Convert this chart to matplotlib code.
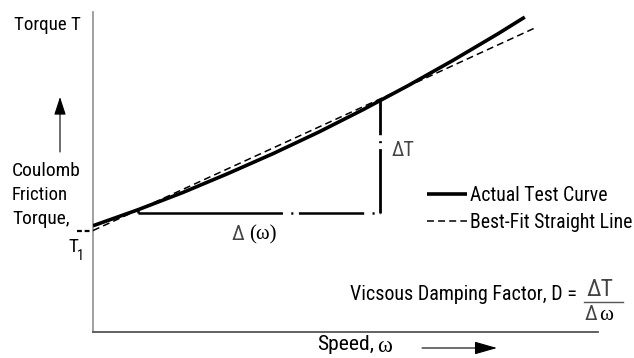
import matplotlib
matplotlib.use("Agg")
import matplotlib.pyplot as plt
from matplotlib.lines import Line2D
from matplotlib.patches import FancyArrowPatch
from matplotlib import font_manager

plt.rcParams['lines.scale_dashes'] = False

# Pick the narrowest sans face available
_fonts = font_manager.fontManager.ttflist
_names = {f.name for f in _fonts}
SANS, STRETCH = 'Liberation Sans', 'normal'
for cand in ('Liberation Sans Narrow', 'Arial Narrow', 'Roboto Condensed'):
    if cand in _names:
        SANS = cand
        break
else:
    if any(f.name == 'DejaVu Sans' and f.stretch in ('condensed', 'semi-condensed') for f in _fonts):
        SANS, STRETCH = 'DejaVu Sans', 'condensed'
    elif 'Roboto' in _names:
        SANS = 'Roboto'
SERIF = 'Liberation Serif'

# Speed (arbitrary units) and measured torque of the test curve
speed = [0, 8.9, 17.8, 26.7, 35.6, 44.6, 53.5, 62.4, 71.3, 80.2, 85.5]
torque_actual = [33.2, 38.2, 43.6, 49.5, 55.7, 62.4, 69.5, 77.0, 84.9, 93.2, 98.4]

# Best-fit straight line end points
fit_speed = [0, 87.9]
fit_torque = [31.7, 95.3]

# Increment construction
w1, w2 = 8.9, 56.8
t_curve_w1 = 38.2
t_base = 37.3
t_curve_w2 = 72.4

W, H = 634, 358
fig = plt.figure(figsize=(W / 100, H / 100), dpi=100)
renderer = fig.canvas.get_renderer()


def fx(px):
    return px / W


def fy(py):
    return 1 - py / H


def fitted_size(s, width_px, size=14, family=None, stretch=None):
    family = family or SANS
    stretch = stretch or (STRETCH if family == SANS else 'normal')
    t = fig.text(0, 0, s, fontsize=size, family=family, fontstretch=stretch)
    w = t.get_window_extent(renderer).width
    t.remove()
    return size * width_px / w


def put(px, py, s, width_px=None, size=14, family=None, stretch=None, **kw):
    """Place a text in pixel coordinates; optionally scale it to a given width."""
    family = family or SANS
    stretch = stretch or (STRETCH if family == SANS else 'normal')
    if width_px is not None:
        size = fitted_size(s, width_px, size, family, stretch)
    return fig.text(fx(px), fy(py), s, fontsize=size, family=family,
                    fontstretch=stretch, va=kw.pop('va', 'center'), **kw)


ax = fig.add_axes([fx(93), fy(332), 505 / W, 320 / H])
ax.set_xlim(0, 100)
ax.set_ylim(0, 100)
ax.set_xticks([])
ax.set_yticks([])
for s in ('top', 'right'):
    ax.spines[s].set_visible(False)
ax.spines['left'].set_color('#9a9a9a')
ax.spines['left'].set_linewidth(1.3)
ax.spines['bottom'].set_color('#555555')
ax.spines['bottom'].set_linewidth(1.3)

actual, = ax.plot(speed, torque_actual, color='black', lw=2.6,
                  solid_capstyle='butt', label='Actual Test Curve', zorder=3)
fit, = ax.plot(fit_speed, fit_torque, color='black', lw=1.1,
               linestyle=(0, (5, 3)), label='Best-Fit Straight Line', zorder=4)

# T1 intercept marker left of the axis
ax.plot([-3.2, 0], [fit_torque[0], fit_torque[0]], color='black', lw=1.6,
        linestyle=(0, (3.5, 2)), clip_on=False)

# Delta omega leg (dash-dot) and Delta T leg
ax.plot([w1, w1], [t_curve_w1, t_base], color='black', lw=1.8, solid_capstyle='butt')
ax.plot([w1, w2], [t_base, t_base], color='black', lw=1.8,
        linestyle=(0, (104, 6, 1.5, 4, 47, 6, 1.5, 4)))
ax.plot([w2, w2], [t_curve_w2, t_base], color='black', lw=2.0,
        linestyle=(0, (25, 4.3, 1.4, 4.3, 200)))

DCOL = '#444444'
put(392, 151, '\u0394T', width_px=23, color=DCOL)
put(232, 235, '\u0394', width_px=13, color=DCOL)
put(249, 235, '(\u03c9)', width_px=28, family=SERIF)

# Left-hand labels
put(14, 25, 'Torque T', width_px=67)
put(12, 171, 'Coulomb', width_px=69)
put(12, 195, 'Friction', width_px=56)
put(12, 219, 'Torque,', width_px=58)
put(68, 247, 'T', width_px=10)
put(77, 256, '1', width_px=7)
fig.add_artist(FancyArrowPatch(
    (fx(60), fy(152)), (fx(60), fy(97)), transform=fig.transFigure,
    arrowstyle='-|>,head_length=11,head_width=3.6', color='black', lw=0.8,
    mutation_scale=1, shrinkA=0, shrinkB=0))

# Speed label and arrow
put(317, 345, 'Speed,', width_px=57)
put(377, 347, '\u03c9', width_px=15, family=SERIF)
fig.add_artist(FancyArrowPatch(
    (fx(422), fy(348)), (fx(497), fy(348)), transform=fig.transFigure,
    arrowstyle='-|>,head_length=14,head_width=4', color='black', lw=0.8,
    mutation_scale=1, shrinkA=0, shrinkB=0))

# Damping factor formula
put(350, 295, 'Vicsous Damping Factor, D =', width_px=227)
put(586, 289, '\u0394T', width_px=27, color=DCOL)
fig.add_artist(Line2D([fx(584), fx(623)], [fy(302), fy(302)],
                      transform=fig.transFigure, color='#555555', lw=1.0))
put(585, 315, '\u0394', width_px=13, color=DCOL)
put(599, 316, '\u03c9', width_px=14, family=SERIF)

# Legend with label size fitted to the longer label
leg_size = fitted_size('Best-Fit Straight Line', 163)
handle_pt = 40 * 72 / 100
leg = ax.legend(handles=[actual, fit], loc='upper left',
                bbox_to_anchor=((427 - 93) / 505, 1 - (186 - 12) / 320),
                frameon=False,
                prop=font_manager.FontProperties(family=SANS, stretch=STRETCH, size=leg_size),
                handlelength=handle_pt / leg_size, handletextpad=2.5 * 0.72 / leg_size,
                labelspacing=0.4, borderpad=0, borderaxespad=0, handleheight=0.7)

fig.savefig('out.png', dpi=100)
